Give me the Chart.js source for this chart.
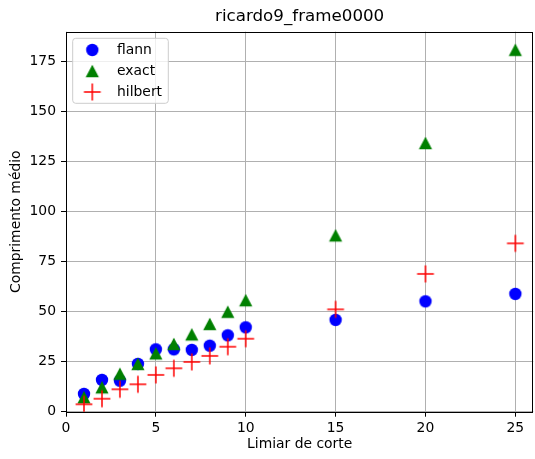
<!DOCTYPE html>
<html>
<head>
<meta charset="utf-8">
<script src="https://cdn.jsdelivr.net/npm/chart.js@4/dist/chart.umd.min.js"></script>
<style>
  html, body { margin: 0; padding: 0; background: #fff; }
  #wrap { width: 535px; height: 459px; position: relative; }
</style>
</head>
<body>
<div id="wrap"><canvas id="c" width="535" height="459"></canvas></div>
<script>
// ---- data ----
const chartTitle = 'ricardo9_frame0000';
const xLabel = 'Limiar de corte';
const yLabel = 'Comprimento médio';
const thresholds = [1, 2, 3, 4, 5, 6, 7, 8, 9, 10, 15, 20, 25];
const flann   = [8.9, 15.9, 15.5, 23.9, 31.2, 31.2, 30.9, 33.0, 38.2, 42.2, 45.9, 55.2, 58.9];
const exact   = [7.2, 12.2, 19.0, 23.9, 29.2, 33.9, 38.7, 43.9, 50.0, 55.8, 88.2, 134.4, 181.0];
const hilbert = [3.7, 6.5, 11.2, 13.7, 18.4, 21.7, 24.9, 27.9, 32.5, 36.5, 51.2, 68.9, 84.2];
const seriesNames = ['flann', 'exact', 'hilbert'];
const xTickStep = 5;
const yTickStep = 25;
const xMax = 26;
const yMax = 190.05;

// ---- marker images (matplotlib-like) ----
function makeMarker(kind, color) {
  const c = document.createElement('canvas');
  c.width = 20; c.height = 20;
  const g = c.getContext('2d');
  g.fillStyle = color; g.strokeStyle = color;
  if (kind === 'o') {
    g.beginPath(); g.arc(10, 10, 6.2, 0, Math.PI * 2); g.fill();
  } else if (kind === '^') {
    g.beginPath();
    g.moveTo(10, 10 - 6.3);
    g.lineTo(10 - 6.6, 10 + 6.2);
    g.lineTo(10 + 6.6, 10 + 6.2);
    g.closePath(); g.fill();
  } else {
    g.lineWidth = 1.5;
    g.beginPath();
    g.moveTo(10 - 8.4, 10); g.lineTo(10 + 8.4, 10);
    g.moveTo(10, 10 - 8.4); g.lineTo(10, 10 + 8.4);
    g.stroke();
  }
  return c;
}
const markers = [makeMarker('o', '#0000ff'), makeMarker('^', '#008000'), makeMarker('+', '#ff0000')];

function pts(ys) { return thresholds.map((x, i) => ({ x: x, y: ys[i] })); }

const FONT = "'DejaVu Sans', sans-serif";
Chart.defaults.font.family = FONT;
Chart.defaults.color = '#000';

const PLOT = { left: 66, right: 533.3, top: 31.7, bottom: 411.7 };

const framePlugin = {
  id: 'frame',
  afterDatasetsDraw(chart) {
    const ctx = chart.ctx, a = chart.chartArea;
    ctx.save();
    ctx.strokeStyle = '#000'; ctx.lineWidth = 1;
    ctx.strokeRect(Math.round(a.left) + 0.5, Math.round(a.top) + 0.5,
      Math.round(a.right) - Math.round(a.left) - 1, Math.round(a.bottom) - Math.round(a.top));
    ctx.restore();
  },
  afterDraw(chart) {
    const ctx = chart.ctx, a = chart.chartArea;
    ctx.save();
    // title
    ctx.font = '16.7px ' + FONT;
    ctx.fillStyle = '#000';
    ctx.textAlign = 'center'; ctx.textBaseline = 'middle';
    ctx.fillText(chartTitle, (a.left + a.right) / 2, 17);
    // legend
    const bx = 72.7, by = 38.3, bw = 95.6, bh = 65, r = 3;
    ctx.beginPath();
    ctx.moveTo(bx + r, by); ctx.lineTo(bx + bw - r, by); ctx.quadraticCurveTo(bx + bw, by, bx + bw, by + r);
    ctx.lineTo(bx + bw, by + bh - r); ctx.quadraticCurveTo(bx + bw, by + bh, bx + bw - r, by + bh);
    ctx.lineTo(bx + r, by + bh); ctx.quadraticCurveTo(bx, by + bh, bx, by + bh - r);
    ctx.lineTo(bx, by + r); ctx.quadraticCurveTo(bx, by, bx + r, by);
    ctx.closePath();
    ctx.fillStyle = 'rgba(255,255,255,0.8)'; ctx.fill();
    ctx.strokeStyle = '#cccccc'; ctx.lineWidth = 1; ctx.stroke();
    const rows = [50, 71, 92];
    ctx.font = '13.9px ' + FONT;
    ctx.textAlign = 'left'; ctx.textBaseline = 'middle';
    chart.data.datasets.forEach((ds, i) => {
      const m = markers[i];
      ctx.drawImage(m, 92.3 - m.width / 2, rows[i] - m.height / 2);
      ctx.fillStyle = '#000';
      ctx.fillText(ds.label, 117, rows[i]);
    });
    ctx.restore();
  }
};

const pointCommon = { pointRadius: 0.1, pointBorderWidth: 0, pointHoverRadius: 0.1, pointHoverBorderWidth: 0 };

new Chart(document.getElementById('c'), {
  type: 'scatter',
  data: {
    datasets: [
      Object.assign({ label: seriesNames[0], data: pts(flann), pointStyle: markers[0], order: 2 }, pointCommon),
      Object.assign({ label: seriesNames[1], data: pts(exact), pointStyle: markers[1], order: 1 }, pointCommon),
      Object.assign({ label: seriesNames[2], data: pts(hilbert), pointStyle: markers[2], order: 0 }, pointCommon)
    ]
  },
  options: {
    responsive: false,
    animation: false,
    events: [],
    layout: { padding: { top: PLOT.top, right: 535 - PLOT.right, left: 0, bottom: 0 } },
    plugins: { legend: { display: false }, title: { display: false }, tooltip: { enabled: false } },
    scales: {
      x: {
        type: 'linear', min: 0, max: xMax,
        afterFit(s) { s.height = 459 - PLOT.bottom; },
        ticks: { stepSize: xTickStep, includeBounds: false, padding: 3.3, font: { size: 13.9 } },
        grid: { color: '#b0b0b0', lineWidth: 1, tickColor: '#000', tickLength: 5, tickWidth: 1 },
        border: { display: false },
        title: { display: true, text: xLabel, font: { size: 13.9 }, padding: { top: 0, bottom: 6.7 } }
      },
      y: {
        type: 'linear', min: 0, max: yMax,
        afterFit(s) { s.width = PLOT.left; },
        ticks: { stepSize: yTickStep, includeBounds: false, padding: 5, font: { size: 13.9 } },
        grid: { color: '#b0b0b0', lineWidth: 1, tickColor: '#000', tickLength: 5, tickWidth: 1 },
        border: { display: false },
        title: { display: true, text: yLabel, font: { size: 13.9 }, padding: { top: 8.5, bottom: 0 } }
      }
    }
  },
  plugins: [framePlugin]
});
</script>
</body>
</html>
